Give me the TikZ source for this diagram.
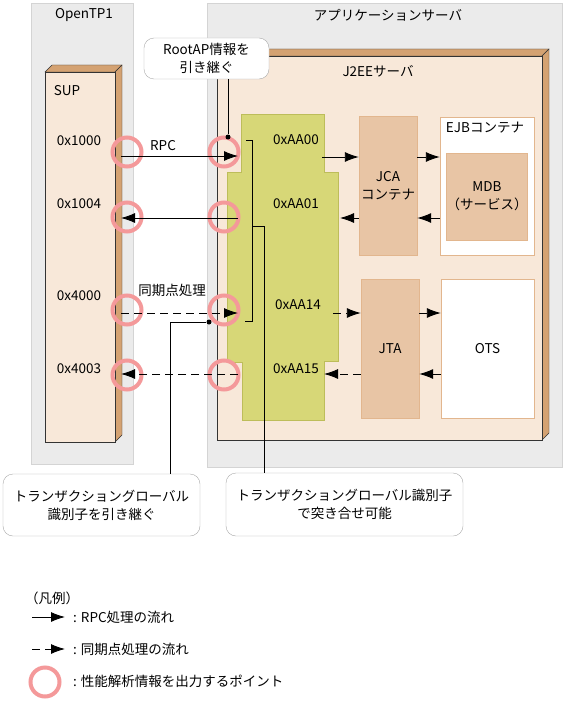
\documentclass[tikz,border=0pt]{standalone}
\usepackage{fontspec}
\setmainfont{Noto Sans CJK JP}
\usetikzlibrary{arrows.meta, calc, positioning}
\definecolor{areagray}{HTML}{EBEBEB}
\definecolor{areaedge}{HTML}{D4D4D4}
\definecolor{peach}{HTML}{F8E8D9}
\definecolor{tan}{HTML}{D4A272}
\definecolor{olive}{HTML}{D7D777}
\definecolor{oliveedge}{HTML}{BDBD5A}
\definecolor{cont}{HTML}{E8C5A5}
\definecolor{contedge}{HTML}{E2B68E}
\definecolor{salmon}{HTML}{F4999A}
\definecolor{calloutedge}{HTML}{AAAAAA}
\tikzset{
	rpcflow/.style={line width=0.9pt, -{Latex[length=14pt,width=10pt]}},
	syncflow/.style={rpcflow, dash pattern=on 8pt off 5pt},
	perfpoint/.style={circle, draw=salmon, line width=4pt, minimum size=29pt, inner sep=0pt},
	callout/.style={draw=calloutedge, fill=white, rounded corners=10pt, align=center, inner sep=0pt},
	txt/.style={inner sep=0pt, align=center},
	contbox/.style={draw=contedge, fill=cont, align=center, inner sep=0pt},
	whitebox/.style={draw=contedge, fill=white, align=center, inner sep=0pt},
	dot/.style={circle, fill=black, inner sep=0pt, minimum size=5pt}
}

\begin{document}
\begin{tikzpicture}[x=1pt, y=-1pt, font=\fontsize{13.5}{18}\selectfont]
\useasboundingbox (0,0) rectangle (565,701);
\fill[white] (0,0) rectangle (565,701);

% areas
\filldraw[fill=areagray, draw=areaedge] (31,3) rectangle (133,464);
\filldraw[fill=areagray, draw=areaedge] (207,3) rectangle (562,467);
\node[txt] (tp1) at (84,15) {OpenTP1};
\node[txt] (apsv) at (388,15) {アプリケーションサーバ};

% SUP
\filldraw[fill=tan, draw=black!80] (45,72)--(52,65)--(122,65)--(115,72)--cycle;
\filldraw[fill=tan, draw=black!80] (115,72)--(122,65)--(122,435)--(115,442)--cycle;
\filldraw[fill=peach, draw=black!80] (45,72) rectangle (115,442);
\node[txt] (sup) at (67,91) {SUP};
\node[txt] (s1000) at (79,141) {0x1000};
\node[txt] (s1004) at (79,204) {0x1004};
\node[txt] (s4000) at (79,296) {0x4000};
\node[txt] (s4003) at (79,369) {0x4003};

% J2EE server
\filldraw[fill=tan, draw=black!80] (217,56)--(224,49)--(549,49)--(542,56)--cycle;
\filldraw[fill=tan, draw=black!80] (542,56)--(549,49)--(549,433)--(542,440)--cycle;
\filldraw[fill=peach, draw=black!80] (217,56) rectangle (542,440);
\node[txt] (j2ee) at (378,71) {J2EEサーバ};

\filldraw[fill=olive, draw=oliveedge] (241,114)--(324,114)--(324,172)--(338,172)--(338,361)
	--(324,361)--(324,420)--(242,420)--(242,362)--(227,362)--(227,172)--(241,172)--cycle;
\node[txt] (aa00) at (296,140) {0xAA00};
\node[txt] (aa01) at (296,204) {0xAA01};
\node[txt] (aa14) at (298,305) {0xAA14};
\node[txt] (aa15) at (296,369) {0xAA15};

\node[contbox, minimum width=58pt, minimum height=139pt] (jca) at (388,185.5) {JCA\\コンテナ};
\node[whitebox, minimum width=94pt, minimum height=138pt] (ejb) at (487,186) {};
\node[txt] (ejblbl) at (485,128) {EJBコンテナ};
\node[contbox, minimum width=78pt, minimum height=87pt] (mdb) at (487,196.5) {MDB\\（サービス）};
\node[contbox, minimum width=58pt, minimum height=139pt] (jta) at (390,348.5) {JTA};
\node[whitebox, minimum width=93pt, minimum height=139pt] (ots) at (487.5,348.5) {OTS};

% performance points
\node[perfpoint] (p1l) at (127,152) {};
\node[perfpoint] (p1r) at (224,152) {};
\node[perfpoint] (p2l) at (127,217) {};
\node[perfpoint] (p2r) at (224,217) {};
\node[perfpoint] (p3l) at (127,310) {};
\node[perfpoint] (p3r) at (224,310) {};
\node[perfpoint] (p4l) at (127,375) {};
\node[perfpoint] (p4r) at (224,375) {};

% flows between SUP and J2EE
\coordinate (l1) at (121,156); \coordinate (r1) at (238,156);
\coordinate (l2) at (121,218); \coordinate (r2) at (238,218);
\coordinate (l3) at (121,313); \coordinate (r3) at (238,313);
\coordinate (l4) at (121,374); \coordinate (r4) at (238,374);
\draw[rpcflow] (l1) -- (r1);
\draw[rpcflow] (r2) -- (l2);
\draw[syncflow] (l3) -- (r3);
\draw[syncflow] (r4) -- (l4);
\node[txt] (rpc) at (163,146) {RPC};
\node[txt] (sync) at (172,290) {同期点処理};

% flows inside
\coordinate (i1) at (322,157);
\coordinate (i2) at (340,218);
\coordinate (i3) at (333,313);
\coordinate (i4) at (324,374);
\draw[rpcflow] (i1) -- (i1 -| jca.west);
\draw[rpcflow] (i1 -| jca.east) -- (i1 -| ejb.west);
\draw[rpcflow] (i2 -| ejb.west) -- (i2 -| jca.east);
\draw[rpcflow] (i2 -| jca.west) -- (i2);
\draw[syncflow] (i3) -- (i3 -| jta.west);
\draw[syncflow] (i3 -| jta.east) -- (i3 -| ots.west);
\draw[syncflow] (i4 -| ots.west) -- (i4 -| jta.east);
\draw[syncflow] (i4 -| jta.west) -- (i4);

% bracket
\draw[line width=0.8pt] (246,140) -- (252,140) -- (252,321) -- (245,321);

% callouts
\node[callout, minimum width=125pt, minimum height=41pt] (rootap) at (206.5,58.5) {RootAP情報を\\引き継ぐ};
\node[callout, minimum width=197pt, minimum height=62pt] (txinherit) at (101.5,505) {トランザクショングローバル\\識別子を引き継ぐ};
\node[callout, minimum width=237pt, minimum height=63pt] (txmatch) at (344.5,504.5) {トランザクショングローバル識別子\\で突き合せ可能};
\node[dot] (dota) at (228,137) {};
\node[dot] (dotb) at (209,322) {};
\coordinate (joint) at (252,226);
\draw[line width=0.8pt] (rootap.south -| dota) -- (dota);
\draw[line width=0.8pt] (txinherit.north -| 170,0) |- (dotb);
\draw[line width=0.8pt] (txmatch.north -| 264,0) |- (joint);

% legend
\node[txt, anchor=west] (legend) at (25,598) {（凡例）};
\coordinate (lg1a) at (32,617); \coordinate (lg1b) at (65,617);
\coordinate (lg2a) at (32,649); \coordinate (lg2b) at (65,649);
\draw[rpcflow] (lg1a) -- (lg1b);
\draw[syncflow] (lg2a) -- (lg2b);
\node[perfpoint] (lgpt) at (45,682) {};
\node[txt, anchor=west] (lgrpc) at (73,617) {: RPC処理の流れ};
\node[txt, anchor=west] (lgsync) at (73,649) {: 同期点処理の流れ};
\node[txt, anchor=west] (lgpoint) at (73,681) {: 性能解析情報を出力するポイント};
\end{tikzpicture}
\end{document}
